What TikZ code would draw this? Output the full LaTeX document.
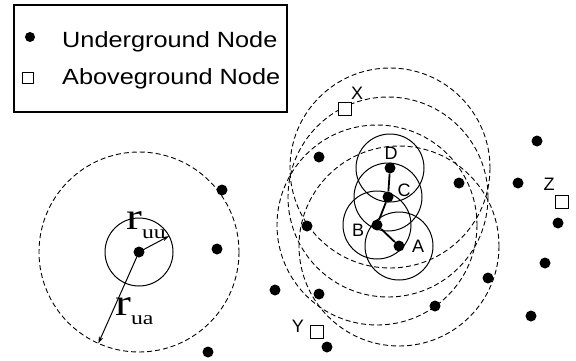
\documentclass[tikz,border=0pt]{standalone}
\usepackage{fontspec}
\usetikzlibrary{arrows.meta,calc}
\newfontfamily\lsans[FakeStretch=1.15]{Liberation Sans}
\newfontfamily\lsansn{Liberation Sans}
\newfontfamily\lserif[FakeStretch=1.25]{Liberation Serif}
\newcommand{\rlab}[1]{{\lserif\fontsize{38}{40}\selectfont r}\raisebox{-9pt}{\lserif\fontsize{19}{20}\selectfont #1}}
\tikzset{
  unode/.style={circle,fill=black,inner sep=0pt,minimum size=11pt},
  anode/.style={draw=black,line width=1.2pt,fill=white,inner sep=0pt,minimum size=12.5pt},
  lab/.style={font=\lsansn\fontsize{18}{20}\selectfont,inner sep=0pt},
  legtext/.style={font=\lsans\fontsize{22}{24}\selectfont,inner sep=0pt,anchor=base west},
  rangecircle/.style={dash pattern=on 5pt off 3pt,line width=0.9pt},
  commcircle/.style={line width=1pt},
  linkline/.style={line width=1.8pt},
  radiusarrow/.style={line width=1pt,-{Stealth[length=7pt,width=4.5pt]}},
}
\begin{document}
\begin{tikzpicture}[x=1pt,y=-1pt]
\useasboundingbox (0,0) rectangle (576,360);
% legend
\node[draw=black,line width=1.3pt,minimum width=273pt,minimum height=107pt,inner sep=0pt] (legend) at (150.5,58.5) {};
\node[unode,minimum size=10pt] (legu) at (30,37) {};
\node[legtext] (legutext) at (62,47) {Underground Node};
\node[anode,minimum size=10.5pt] (lega) at (28,78) {};
\node[legtext] (legatext) at (62,84) {Aboveground Node};
% left illustration
\node[unode] (U0) at (139,252) {};
\draw[rangecircle] (U0.center) circle (100);
\draw[commcircle] (U0.center) circle (34);
\coordinate (ruuend) at ($(U0.center)+(-28:34)$);
\coordinate (ruaend) at ($(U0.center)+(114:100)$);
\draw[radiusarrow] (U0.center) -- (ruuend);
\draw[radiusarrow] (U0.center) -- (ruaend);
\node[inner sep=0pt,anchor=base west] (ruu) at (126,229) {\rlab{uu}};
\node[inner sep=0pt,anchor=base west] (rua) at (115,315) {\rlab{ua}};
% chain nodes
\node[unode] (A) at (399,246) {};
\node[unode] (B) at (377,225) {};
\node[unode] (C) at (388,197) {};
\node[unode] (D) at (390,168) {};
\foreach \n in {A,B,C,D}{
  \draw[rangecircle] (\n.center) circle (100);
  \draw[commcircle] (\n.center) circle (34);
}
\draw[linkline] (A) -- (B) -- (C) -- (D);
\node[lab] (Alab) at (418,246) {A};
\node[lab] (Blab) at (358,230) {B};
\node[lab] (Clab) at (404,190) {C};
\node[lab] (Dlab) at (391,153) {D};
% other underground nodes
\foreach \nm/\px/\py in {u1/222/190,u2/217/249,u3/208/352,u4/319/157,u5/307/226,u6/275/290,u7/319/294,u8/327/347,u9/435/306,u10/488/278,u11/459/183,u12/518/183,u13/537/141,u14/558/223,u15/545/263,u16/531/316}{
  \node[unode] (\nm) at (\px,\py) {};
}
% aboveground nodes
\node[anode] (X) at (345,109) {};
\node[anode] (Y) at (317,332) {};
\node[anode] (Z) at (562,202) {};
\node[lab] (Xlab) at (357,93) {X};
\node[lab] (Ylab) at (298,326) {Y};
\node[lab] (Zlab) at (549,184) {Z};
\end{tikzpicture}
\end{document}
